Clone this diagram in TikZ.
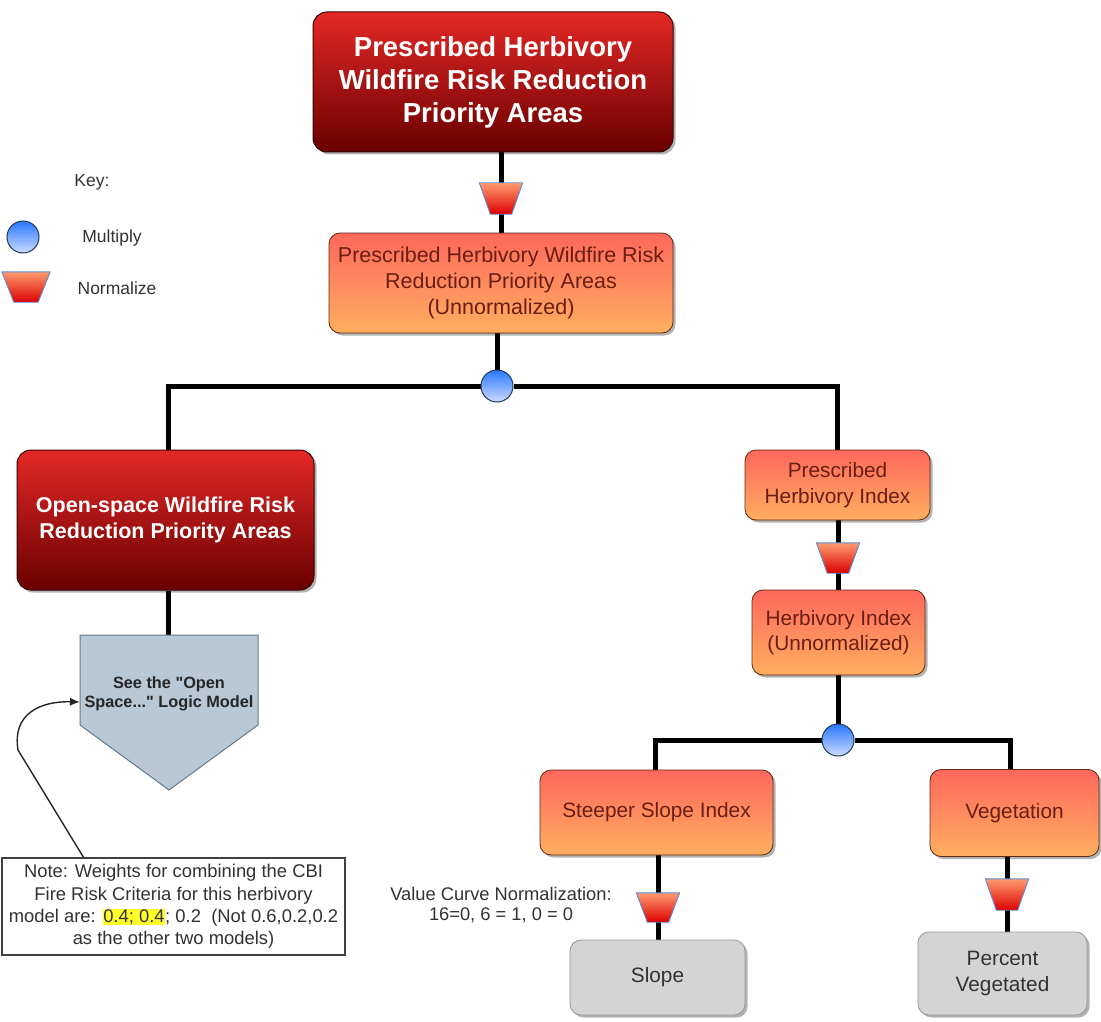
\documentclass[tikz,border=0pt]{standalone}
\usepackage{fontspec}
\setmainfont{Liberation Sans}[Ligatures=TeXOff]
\usetikzlibrary{shapes.geometric,arrows.meta,shadows,calc}
\definecolor{dredT}{RGB}{228,40,38}
\definecolor{dredB}{RGB}{105,0,0}
\definecolor{dredE}{RGB}{55,5,5}
\definecolor{orT}{RGB}{255,104,92}
\definecolor{orB}{RGB}{255,174,96}
\definecolor{orE}{RGB}{90,40,20}
\definecolor{orTxt}{RGB}{105,30,20}
\definecolor{grF}{RGB}{212,212,212}
\definecolor{grE}{RGB}{150,150,150}
\definecolor{grTxt}{RGB}{50,50,50}
\definecolor{penF}{RGB}{185,200,213}
\definecolor{penE}{RGB}{105,120,135}
\definecolor{trT}{RGB}{255,155,110}
\definecolor{trB}{RGB}{220,0,0}
\definecolor{trE}{RGB}{90,140,215}
\definecolor{ciT}{RGB}{40,120,255}
\definecolor{ciB}{RGB}{205,218,255}
\definecolor{ciE}{RGB}{30,55,90}
\definecolor{hl}{RGB}{255,255,40}
\newcommand\myfs[2]{\fontsize{#1}{#2}\selectfont}
% name, x, y, top width, height, inset
\newcommand\trapat[6]{%
  \node[inner sep=0pt, minimum width=#4pt, minimum height=#5pt] (#1) at (#2,#3) {};
  \shade[trapsh] (#1.north west) -- (#1.north east) -- ([xshift=-#6pt]#1.south east) -- ([xshift=#6pt]#1.south west) -- cycle;}
\pgfdeclarelayer{bg}
\pgfsetlayers{bg,main}
\tikzset{
  conn/.style={line width=5pt, black},
  shad/.style={drop shadow={shadow xshift=2.5pt, shadow yshift=-2.5pt, opacity=0.3, fill=black}},
  redbox/.style={shad, rounded corners=14pt, draw=dredE, line width=1pt, top color=dredT, bottom color=dredB, text=white, align=center, inner sep=3pt},
  orangebox/.style={shad, rounded corners=11pt, draw=orE, line width=0.8pt, top color=orT, bottom color=orB, text=orTxt, align=center, inner sep=3pt, font=\myfs{20.8}{25.5}},
  graybox/.style={shad, rounded corners=11pt, draw=grE, line width=0.8pt, fill=grF, text=grTxt, align=center, inner sep=3pt, font=\myfs{20.8}{25.5}},
  trapsh/.style={draw=trE, line width=0.9pt, line join=round, top color=trT, bottom color=trB},
  multcirc/.style={circle, minimum size=32pt, inner sep=0pt, draw=ciE, line width=1pt, top color=ciT, bottom color=ciB},
  plain/.style={align=center, inner sep=0pt, text=grTxt},
}
\begin{document}
\begin{tikzpicture}[x=1pt,y=-1pt]
\useasboundingbox (0,0) rectangle (1101,1022);

% key
\node[plain, font=\myfs{17.5}{21}] (key) at (92,182) {Key:};
\node[multcirc] (keycirc) at (23,237) {};
\node[plain, font=\myfs{17.5}{21}] (keymult) at (112,238) {Multiply};
\trapat{keytrap}{26}{287}{48}{30}{12}
\node[plain, font=\myfs{17.5}{21}] (keynorm) at (117,288) {Normalize};

% main boxes
\node[redbox, minimum width=360pt, minimum height=140pt, font=\bfseries\myfs{27.5}{33}] (top) at (493,82)
  {Prescribed Herbivory\\Wildfire Risk Reduction\\Priority Areas};
\trapat{norm1}{501}{198.5}{43}{31}{11}
\node[orangebox, minimum width=344pt, minimum height=100pt, font=\myfs{21.5}{26}] (unnorm) at (501,283)
  {Prescribed Herbivory Wildfire Risk\\Reduction Priority Areas\\(Unnormalized)};
\node[multcirc] (mult1) at (497,386) {};

\node[redbox, minimum width=297pt, minimum height=140pt, font=\bfseries\myfs{21.5}{26}] (opensp) at (165.5,520)
  {Open-space Wildfire Risk\\Reduction Priority Areas};

% off-page pentagon
\coordinate (penN) at (168,635);
\coordinate (penW) at (80,702);
\draw[fill=penF, draw=penE, line width=1pt] (80,635) -- (258,635) -- (258,725) -- (169,790) -- (80,725) -- cycle;
\node[plain, text=black!85, font=\bfseries\myfs{16.3}{19.5}] (seeopen) at (169,694) {See the "Open\\Space..." Logic Model};

\node[orangebox, minimum width=185pt, minimum height=70pt] (phi) at (837.5,485)
  {Prescribed\\Herbivory Index};
\trapat{norm2}{838}{558}{43}{30}{11}
\node[orangebox, minimum width=173pt, minimum height=85pt] (hiu) at (838.5,632.5)
  {Herbivory Index\\(Unnormalized)};
\node[multcirc] (mult2) at (838,740) {};

\node[orangebox, minimum width=233pt, minimum height=85pt] (steep) at (656.5,812.5) {Steeper Slope Index};
\trapat{norm3}{658}{907.5}{43}{29}{11}
\node[graybox, minimum width=175pt, minimum height=75pt] (slope) at (657.5,977.5) {Slope};
\node[plain, font=\myfs{18.3}{20.5}] (vcn) at (501,905) {Value Curve Normalization:\\16=0, 6 = 1, 0 = 0};

\node[orangebox, minimum width=169pt, minimum height=87pt] (veg) at (1014.5,813) {Vegetation};
\trapat{norm4}{1007}{894.5}{43}{31}{11}
\node[graybox, minimum width=169pt, minimum height=83pt] (pveg) at (1002.5,973.5) {Percent\\Vegetated};

% note
\node[draw=black!75, line width=1.3pt, fill=white, minimum width=343pt, minimum height=97pt, align=center, inner sep=2pt, text=grTxt, font=\myfs{18.4}{22.3}] (note) at (173.5,906.5)
  {Note: Weights for combining the CBI\\Fire Risk Criteria for this herbivory\\model are: {\setlength\fboxsep{0.6pt}\colorbox{hl}{0.4; 0.4}}; 0.2\ \ (Not 0.6,0.2,0.2\\as the other two models)};

\draw[line width=1.4pt, black!85, -{Latex[length=10pt,width=8pt]}]
  ([xshift=-90pt]note.north) -- (18,750) .. controls (12,714) and (40,701) .. (penW);

% connectors
\begin{pgfonlayer}{bg}
\draw[conn] (top.south -| norm1) -- (unnorm.north -| norm1);
\draw[conn] (unnorm.south -| mult1) -- (mult1);
\draw[conn] (penN |- opensp.north) |- (mult1);
\draw[conn] (phi.north) |- (mult1);
\draw[conn] (opensp.south -| penN) -- (penN);
\draw[conn] (phi.south -| norm2) -- (hiu.north -| norm2);
\draw[conn] (hiu.south -| mult2) -- (mult2);
\draw[conn] ($(steep.north)+(-1.5,0)$) |- (mult2);
\draw[conn] ($(veg.north)+(-4.5,0)$) |- (mult2);
\draw[conn] (steep.south -| norm3) -- (slope.north -| norm3);
\draw[conn] (veg.south -| norm4) -- (pveg.north -| norm4);
\end{pgfonlayer}
\end{tikzpicture}
\end{document}
